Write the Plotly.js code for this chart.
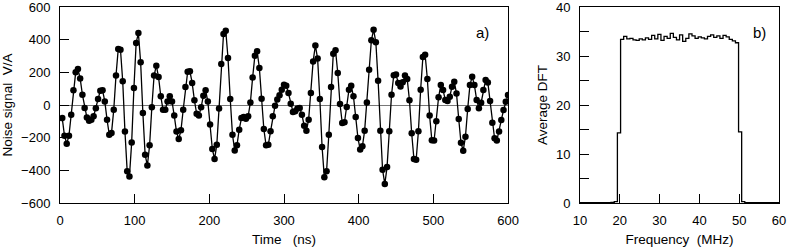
<!DOCTYPE html>
<html>
<head>
<meta charset="utf-8">
<script src="https://cdn.plot.ly/plotly-3.0.1.min.js"></script>
<style>
html,body{margin:0;padding:0;background:#fff;}
#chart{width:789px;height:251px;}
</style>
</head>
<body>
<div id="chart"></div>
<script>
// ---- Panel a): noise signal, one sample every 3 ns starting at 3 ns ----
const timeStartNs = 3;
const timeStepNs = 3;
const noiseSignal = [
  -80, -188, -237, -188, -59, 90, 200, 220, 163, 63,
  -18, -76, -96, -90, -69, -20, 37, 88, 90, 22,
  -90, -182, -171, -29, 180, 343, 339, 145, -163, -406,
  -437, -229, 104, 380, 441, 261, -49, -304, -371, -247,
  -14, 180, 241, 171, 53, -29, -29, 22, 53, 22,
  -65, -163, -208, -155, -29, 110,
  204, 206, 135, 29, -53, -65, -14, 57, 90, 22,
  -120, -269, -331, -243, -22, 251, 435, 455, 288, 37,
  -182, -278, -247, -151, -80, -73, -84, -69, 16, 169,
  302, 329, 227, 39, -147, -247, -243, -161, -69, -4,
  33, 59, 94, 124, 118, 73, 8, -43, -39, -22,
  -18, -59, -127,
  -157, -90, 73, 267, 365, 284, 37, -257, -443, -406,
  -182, 110, 314, 335, 196, 6, -110, -106, -12, 94,
  118, 53, -73, -202, -273, -253, -157, 16, 216, 396,
  461, 384, 149, -157, -396, -484, -380, -161, 63, 182,
  186, 135, 114, 139, 180, 159, 29, -173, -331, -335,
  -161, 94, 294, 308,
  159, -65, -216, -218, -100, 47, 122, 92, 31, 24,
  51, 112, 143, 71, -86, -231, -280, -194, -24, 122,
  173, 122, 31, -20, 14, 92, 153, 137, 24, -108,
  -204, -218, -163, -92, -31, 20, 61
];

// ---- Panel b): average DFT (step curve, value starts at each frequency) ----
const dftFreqMHz = [
  10, 17.8, 18.62, 19.4,
  20.2, 20.98, 21.76, 22.54, 23.32, 24.1, 24.88, 25.66, 26.44, 27.22,
  28.0, 28.78, 29.56, 30.34, 31.12, 31.9, 32.68, 33.46, 34.24, 35.02,
  35.8, 36.58, 37.36, 38.14, 38.92, 39.7, 40.48, 41.26, 42.04, 42.82,
  43.6, 44.38, 45.16, 45.94, 46.72, 47.5, 48.28, 49.06,
  49.84, 50.62, 51.4, 60
];
const dftAverage = [
  0.05, 0.1, 0.3, 14.3,
  33.4, 34.0, 33.5, 33.6, 33.3, 33.2, 33.5, 33.3, 33.7, 33.4,
  34.2, 33.5, 34.4, 33.2, 34.0, 33.6, 34.6, 33.8, 33.3, 34.3,
  33.0, 33.6, 34.5, 34.1, 33.6, 33.9, 33.7, 33.5, 34.0, 34.3,
  33.8, 34.1, 33.6, 34.2, 33.9, 33.4, 33.1, 32.7,
  14.5, 0.3, 0.05, 0.05
];

// ---- Tick labels ----
const timeTicks = [0, 100, 200, 300, 400, 500, 600];
const signalTicks = [-600, -400, -200, 0, 200, 400, 600];
const freqTicks = [10, 20, 30, 40, 50, 60];
const dftTickVals = [0, 5, 10, 15, 20, 25, 30, 35, 40];
const dftTickText = ['0', '', '10', '', '20', '', '30', '', '40'];

const FONT = 'Liberation Sans, Arial, Helvetica, sans-serif';
const titleFont = {family: FONT, size: 13.5, color: '#000000'};

const traces = [
  {
    type: 'scatter', mode: 'lines+markers',
    x0: timeStartNs, dx: timeStepNs, y: noiseSignal,
    xaxis: 'x', yaxis: 'y',
    line: {color: '#000', width: 1.3},
    marker: {color: '#000', size: 6.5, symbol: 'circle'},
    hoverinfo: 'x+y'
  },
  {
    type: 'scatter', mode: 'lines',
    x: dftFreqMHz, y: dftAverage,
    xaxis: 'x2', yaxis: 'y2',
    line: {color: '#000', width: 1.3, shape: 'hv'},
    hoverinfo: 'x+y'
  }
];

const axisCommon = {
  showline: true, mirror: true, linecolor: '#000', linewidth: 1,
  ticks: 'inside', ticklen: 9, tickwidth: 1, tickcolor: '#000',
  showgrid: false, zeroline: false,
  ticklabeloverflow: 'allow',
  tickfont: {family: FONT, size: 13, color: '#000000'},
  fixedrange: true
};

const layout = {
  width: 789, height: 251,
  margin: {l: 60, r: 10, t: 7, b: 48},
  paper_bgcolor: '#fff', plot_bgcolor: '#fff',
  showlegend: false,
  font: {family: FONT, size: 13, color: '#000000'},
  xaxis: Object.assign({}, axisCommon, {
    domain: [0, 0.6231], range: [0, 600],
    tickmode: 'array', tickvals: timeTicks,
    ticklabelstandoff: 5,
    title: {text: 'Time   (ns)', font: titleFont, standoff: 7}
  }),
  yaxis: Object.assign({}, axisCommon, {
    domain: [0, 1], range: [-600, 600],
    tickmode: 'array', tickvals: signalTicks,
    zeroline: true, zerolinecolor: '#777', zerolinewidth: 1,
    ticklabelstandoff: 6,
    title: {text: 'Noise signal  V/A', font: titleFont, standoff: 5}
  }),
  xaxis2: Object.assign({}, axisCommon, {
    domain: [0.7232, 1], range: [10, 60], anchor: 'y2',
    tickmode: 'array', tickvals: freqTicks,
    ticklabelstandoff: 5,
    title: {text: 'Frequency  (MHz)', font: titleFont, standoff: 7}
  }),
  yaxis2: Object.assign({}, axisCommon, {
    domain: [0, 1], range: [0, 40], anchor: 'x2',
    tickmode: 'array', tickvals: dftTickVals, ticktext: dftTickText,
    ticklabelstandoff: 6,
    title: {text: 'Average DFT', font: titleFont, standoff: 5}
  }),
  annotations: [
    {text: 'a)', xref: 'x', yref: 'y', x: 566, y: 441, showarrow: false,
     font: {family: FONT, size: 15, color: '#000000'}},
    {text: 'b)', xref: 'x2', yref: 'y2', x: 55, y: 34.7, showarrow: false,
     font: {family: FONT, size: 15, color: '#000000'}}
  ]
};

Plotly.newPlot('chart', traces, layout, {displayModeBar: false, staticPlot: true});
</script>
</body>
</html>
